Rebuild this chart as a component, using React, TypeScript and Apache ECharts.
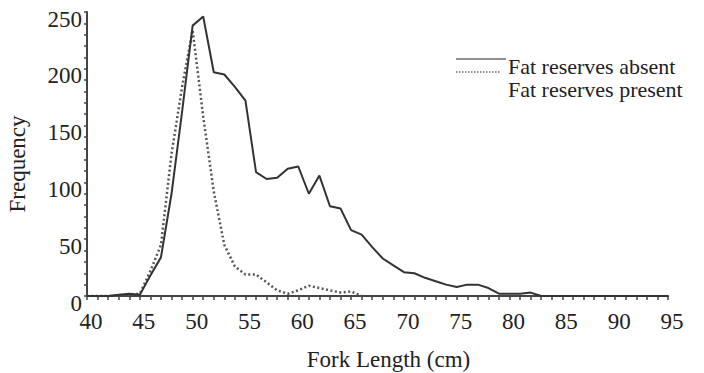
import React, { useEffect, useRef } from "react";
import * as echarts from "echarts";

const forkLength = [40, 41, 42, 43, 44, 45, 46, 47, 48, 49, 50, 51, 52, 53, 54, 55, 56, 57, 58, 59, 60, 61, 62, 63, 64, 65, 66, 67, 68, 69, 70, 71, 72, 73, 74, 75, 76, 77, 78, 79, 80, 81, 82, 83, 84, 85, 86, 87, 88, 89, 90, 91, 92, 93, 94, 95];

const fatAbsent = [0, 0, 0, 1, 2, 1, 18, 34, 90, 162, 238, 246, 197, 195, 184, 172, 109, 103, 104, 112, 114, 90, 106, 79, 77, 58, 54, 43, 33, 27, 21, 20, 16, 13, 10, 8, 10, 10, 7, 2, 2, 2, 3, 0, 0, 0, 0, 0, 0, 0, 0, 0, 0, 0, 0, 0];

const presentLength = [40, 41, 42, 43, 44, 45, 46, 47, 48, 49, 50, 51, 52, 53, 54, 55, 56, 57, 58, 59, 60, 61, 62, 63, 64, 65, 66];
const fatPresent = [0, 0, 0, 0, 1, 2, 22, 45, 125, 184, 234, 158, 92, 45, 26, 19, 19, 12, 5, 2, 5, 9, 7, 5, 3, 4, 0];

const seriesNames = ["Fat reserves absent", "Fat reserves present"];
const xTitle = "Fork Length (cm)";
const yTitle = "Frequency";

const FONT = "'Liberation Serif', 'Times New Roman', serif";

export default function App() {
  const ref = useRef<HTMLDivElement>(null);
  useEffect(() => {
    document.body.style.margin = "0";
    if (!ref.current) return;
    const chart = echarts.init(ref.current, null, { renderer: "svg" });
    const absentData = forkLength.map((x, i) => [x, fatAbsent[i]]);
    const presentData = presentLength.map((x, i) => [x, fatPresent[i]]);
    chart.setOption({
      animation: false,
      backgroundColor: "#ffffff",
      grid: { left: 87, right: 36, top: 12, bottom: 77, containLabel: false, outerBoundsMode: "none" },
      xAxis: {
        type: "value",
        min: 40,
        max: 95,
        interval: 5,
        name: xTitle,
        nameLocation: "middle",
        nameGap: 52,
        nameTextStyle: { fontFamily: FONT, fontSize: 23, color: "#222", padding: [0, 0, 0, 22] },
        axisLine: { show: true, lineStyle: { color: "#444", width: 2 } },
        axisTick: { show: true, length: 4, lineStyle: { color: "#444", width: 1.5 } },
        minorTick: { show: true, splitNumber: 5, length: 4, lineStyle: { color: "#444", width: 1.5 } },
        splitLine: { show: false },
        axisLabel: {
          fontFamily: FONT,
          fontSize: 23,
          color: "#222",
          margin: 14,
          padding: [0, 0, 0, 8],
        },
      },
      yAxis: {
        type: "value",
        min: 0,
        max: 250,
        interval: 50,
        name: yTitle,
        nameLocation: "middle",
        nameGap: 58,
        nameRotate: 90,
        nameTextStyle: { fontFamily: FONT, fontSize: 23, color: "#222", padding: [0, 20, 0, 0] },
        axisLine: { show: true, lineStyle: { color: "#444", width: 2 } },
        axisTick: { show: true, length: 3, lineStyle: { color: "#444", width: 1.5 } },
        minorTick: { show: true, splitNumber: 5, length: 3, lineStyle: { color: "#444", width: 1.5 } },
        splitLine: { show: false },
        axisLabel: {
          fontFamily: FONT,
          fontSize: 23,
          color: "#222",
          margin: 5,
          verticalAlign: "top",
          lineHeight: 14,
        },
      },
      series: [
        {
          name: seriesNames[0],
          type: "line",
          data: absentData,
          symbol: "none",
          lineStyle: { color: "#333", width: 2 },
          z: 3,
        },
        {
          name: seriesNames[1],
          type: "line",
          data: presentData,
          symbol: "none",
          lineStyle: { color: "#555", width: 2.5, type: [2, 2.5] },
          z: 2,
        },
      ],
      graphic: [
        {
          type: "line",
          shape: { x1: 456, y1: 59, x2: 506, y2: 59 },
          style: { stroke: "#222", lineWidth: 1.2 },
        },
        {
          type: "line",
          shape: { x1: 456, y1: 72, x2: 501, y2: 72 },
          style: { stroke: "#222", lineWidth: 1.2, lineDash: [1.5, 1.5] },
        },
        {
          type: "text",
          x: 508,
          y: 66,
          style: {
            text: seriesNames[0],
            fontFamily: FONT,
            fontSize: 22,
            fill: "#222",
            verticalAlign: "middle",
            align: "left",
          },
        },
        {
          type: "text",
          x: 508,
          y: 89,
          style: {
            text: seriesNames[1],
            fontFamily: FONT,
            fontSize: 22,
            fill: "#222",
            verticalAlign: "middle",
            align: "left",
          },
        },
      ],
    });
    return () => chart.dispose();
  }, []);
  return <div ref={ref} style={{ width: 704, height: 373 }} />;
}
